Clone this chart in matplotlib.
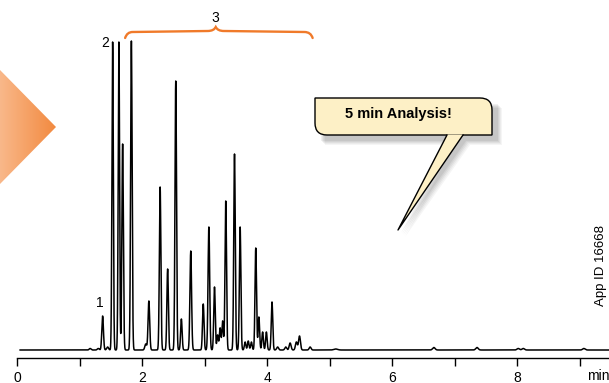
import matplotlib
matplotlib.use("Agg")
import matplotlib.pyplot as plt
import numpy as np
from matplotlib.patches import Polygon, PathPatch
from matplotlib.path import Path
from matplotlib.colors import LinearSegmentedColormap

plt.rcParams['font.family'] = ['Liberation Sans', 'DejaVu Sans']

# peak table (retention time in min, height, sigma)
peak_rt = [1.17, 1.30, 1.37, 1.45, 1.53, 1.63, 1.69, 1.83, 2.06, 2.11,
           2.29, 2.41, 2.54, 2.63, 2.78, 2.98, 3.07, 3.16, 3.21, 3.25,
           3.29, 3.34, 3.48, 3.57, 3.65, 3.70, 3.75, 3.82, 3.87, 3.93,
           3.99, 4.08, 4.17, 4.30, 4.37, 4.47, 4.52, 4.69, 5.10, 6.67,
           7.36, 8.02, 8.10, 9.07]
peak_height = [1.5, 1.5, 34, 3, 308, 308, 206, 309, 6, 49,
               163, 81, 269, 31, 99, 46, 123, 63, 15, 22,
               29, 149, 196, 123, 8, 9, 8, 102, 33, 18,
               18, 48, 3, 3, 7, 8, 14, 3, 1, 2.5,
               2.5, 1.5, 1.5, 1.5]
peak_sigma = [0.015, 0.015, 0.013, 0.015, 0.011, 0.011, 0.012, 0.012, 0.015, 0.013,
              0.012, 0.012, 0.012, 0.012, 0.013, 0.012, 0.013, 0.012, 0.012, 0.012,
              0.012, 0.012, 0.012, 0.012, 0.012, 0.012, 0.012, 0.012, 0.012, 0.012,
              0.012, 0.012, 0.015, 0.015, 0.015, 0.015, 0.015, 0.015, 0.03, 0.02,
              0.02, 0.02, 0.02, 0.02]

x_ticks = [0, 2, 4, 6, 8]
x_minor = [1, 3, 5, 7, 9]

t = np.arange(0.05, 9.6, 0.001)
signal = np.zeros_like(t)
for rt, h, s in zip(peak_rt, peak_height, peak_sigma):
    signal += h * np.exp(-0.5 * ((t - rt) / s) ** 2)

W, H = 609, 383
fig = plt.figure(figsize=(W / 100, H / 100), dpi=100)

# main chromatogram axes (pixel 17 -> 0 min, 62.5 px/min)
ax = fig.add_axes([17 / W, (H - 358) / H, (W - 17) / W, 358 / H])
ax.plot(t, signal, color='black', lw=1.1)
ax.set_xlim(0, (W - 17) / 62.5)
ax.set_ylim(-8, 350)
for s in ['top', 'right', 'left']:
    ax.spines[s].set_visible(False)
ax.spines['bottom'].set_linewidth(1.0)
ax.set_yticks([])
ax.set_xticks(x_ticks)
ax.set_xticks(x_minor, minor=True)
ax.tick_params(axis='x', which='both', direction='out', length=6, width=1.0,
               labelsize=10, pad=3)
ax.text(9.12, -26, 'min', fontsize=10, ha='left', va='center', clip_on=False)

# peak labels
ax.text(1.33, 47, '1', fontsize=10, ha='center', va='center')
ax.text(1.41, 307, '2', fontsize=10, ha='center', va='center')
ax.text(3.18, 332, '3', fontsize=10, ha='center', va='center')

# orange curly bracket over group 3
orange = '#f07a2a'
bx = [1.73, 1.76, 1.85, 3.05, 3.18, 3.31, 4.60, 4.70, 4.73]
by = [312, 317, 318, 319, 323, 319, 318, 317, 312]
verts = [(bx[0], by[0]), (bx[1], by[2]), (bx[2], by[2]),
         (bx[3], by[3]), (bx[3] + 0.1, by[3]), (bx[4], by[4]),
         (bx[5] - 0.1, by[5]), (bx[5], by[5]),
         (bx[6], by[6]), (bx[7], by[6]), (bx[8], by[8])]
codes = [Path.MOVETO, Path.CURVE3, Path.CURVE3,
         Path.LINETO, Path.CURVE3, Path.CURVE3,
         Path.CURVE3, Path.CURVE3,
         Path.LINETO, Path.CURVE3, Path.CURVE3]
ax.add_patch(PathPatch(Path(verts, codes), fill=False, edgecolor=orange, lw=1.7,
                       capstyle='round'))

# overlay in pixel coordinates for decorations
ov = fig.add_axes([0, 0, 1, 1], facecolor='none')
ov.axis('off')

# orange gradient arrow on the left
tri = Polygon([(0, 70), (56, 127), (0, 184)], closed=True, facecolor='none',
              edgecolor='none')
ov.add_patch(tri)
grad = np.linspace(0, 1, 256).reshape(1, -1)
cmap = LinearSegmentedColormap.from_list('og', ['#f9b88a', '#f28a40'])
im = ov.imshow(grad, extent=[0, 56, 184, 70], cmap=cmap, aspect='auto',
               interpolation='bilinear')
im.set_clip_path(tri)
ov.set_xlim(0, W)
ov.set_ylim(H, 0)

# callout shadow
for k, a in enumerate([0.04, 0.04, 0.05, 0.05, 0.06]):
    d = 7 - k
    shadow = Polygon([(318 + d, 101 + d), (495 + d, 101 + d), (495 + d, 138 + d),
                      (463 + d, 138 + d), (398 + d, 230 + d), (447 + d, 138 + d),
                      (318 + d, 138 + d)], closed=True, facecolor='black',
                     edgecolor='none', alpha=a)
    ov.add_patch(shadow)

cream = '#fdf0c6'
r = 12
bx0, bx1, by0, by1 = 315, 492, 98, 135
box_verts = [(bx0, by0), (bx1 - r, by0), (bx1, by0), (bx1, by0 + r),
             (bx1, by1), (bx0 + r, by1), (bx0, by1), (bx0, by1 - r),
             (bx0, by0)]
box_codes = [Path.MOVETO, Path.LINETO, Path.CURVE3, Path.CURVE3,
             Path.LINETO, Path.LINETO, Path.CURVE3, Path.CURVE3,
             Path.CLOSEPOLY]
ov.add_patch(PathPatch(Path(box_verts, box_codes), facecolor=cream,
                       edgecolor='black', lw=1.0))
# tail
ov.add_patch(Polygon([(447, 134.5), (463, 134.5), (398, 230)], closed=True,
                     facecolor=cream, edgecolor='none'))
ov.plot([447, 398, 463], [135, 230, 135], color='black', lw=1.0)
ov.text(398, 114, '5 min Analysis!', fontsize=10.5, fontweight='bold',
        family=['Liberation Sans Narrow', 'Liberation Sans'],
        ha='center', va='center')

ov.text(601, 265, 'App ID 16668', fontsize=9.5, rotation=90,
        ha='center', va='center')

fig.savefig('out.png', dpi=100)
